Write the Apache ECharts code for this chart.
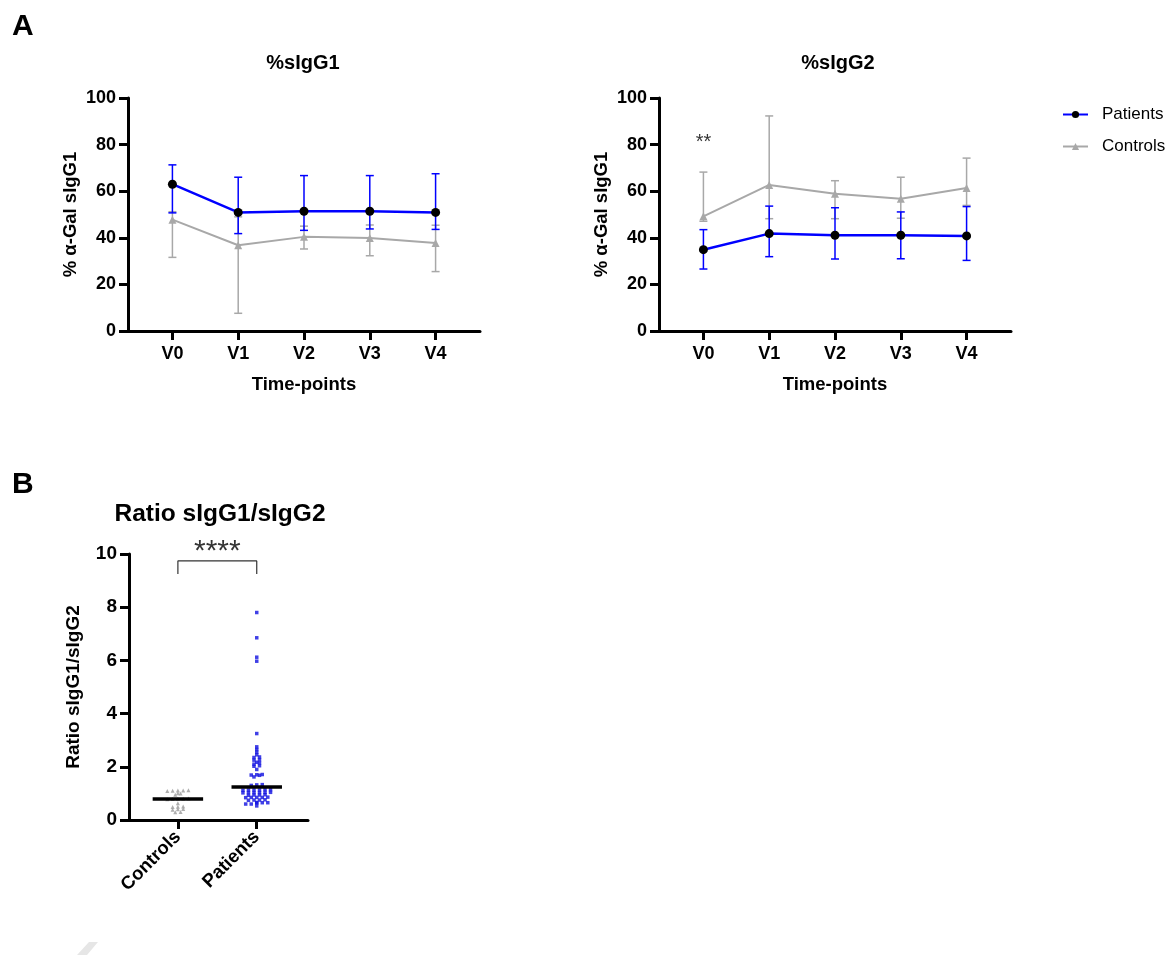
<!DOCTYPE html>
<html>
<head>
<meta charset="utf-8">
<script src="https://cdn.jsdelivr.net/npm/echarts@6/dist/echarts.min.js"></script>
<style>
html,body{margin:0;padding:0;background:#fff;}
#chart{width:1176px;height:955px;}
</style>
</head>
<body>
<div id="chart"></div>
<script>
// ---------- DATA ----------
const timepoints = ['V0', 'V1', 'V2', 'V3', 'V4'];
const yTicksA = [0, 20, 40, 60, 80, 100];

// %sIgG1 (median with range bars)
const g1PatMed  = [63.0, 50.9, 51.4, 51.4, 50.9];
const g1PatLow  = [50.7, 41.8, 43.2, 43.8, 43.6];
const g1PatHigh = [71.3, 66.0, 66.7, 66.7, 67.5];
const g1CtlMed  = [47.8, 36.8, 40.4, 39.9, 37.8];
const g1CtlLow  = [31.6, 7.6, 35.2, 32.3, 25.5];
const g1CtlHigh = [51.2, 49.0, 45.0, 45.5, 45.4];

// %sIgG2
const g2PatMed  = [34.9, 41.8, 41.1, 41.1, 40.8];
const g2PatLow  = [26.6, 31.9, 30.9, 31.0, 30.3];
const g2PatHigh = [43.5, 53.6, 52.9, 51.1, 53.4];
const g2CtlMed  = [49.2, 62.7, 58.9, 56.8, 61.4];
const g2CtlLow  = [47.1, 48.2, 48.2, 48.4, 53.9];
const g2CtlHigh = [68.2, 92.3, 64.5, 66.0, 74.2];

// Ratio sIgG1/sIgG2
const groupsB = ['Controls', 'Patients'];
const ratioControls = [1.12, 1.11, 1.10, 1.11, 1.09, 1.01, 1.00, 0.95, 0.81, 0.80, 0.79, 0.78, 0.80,
  0.63, 0.50, 0.51, 0.49, 0.41, 0.40, 0.39, 0.30, 0.29];
const ratioPatients = [7.80, 6.85, 6.12, 5.97, 3.25,
  2.75, 2.65, 2.55, 2.45, 2.37, 2.35, 2.27, 2.25, 2.17, 2.15, 2.10, 2.04, 2.02, 1.90,
  1.71, 1.70, 1.69, 1.68, 1.62, 1.33, 1.32, 1.30,
  1.14, 1.13, 1.13, 1.12, 1.13, 1.14,
  1.03, 1.04, 1.03, 1.02, 1.03, 1.04,
  0.94, 0.95, 0.94, 0.93,
  0.85, 0.86, 0.85, 0.84, 0.85,
  0.75, 0.76, 0.75, 0.74,
  0.65, 0.66, 0.65, 0.64,
  0.60, 0.60, 0.53];
const ratioMeans = [0.79, 1.24];
const yTicksB = [0, 2, 4, 6, 8, 10];

// ---------- STYLE ----------
const FONT = 'Liberation Sans, Arial, sans-serif';
const BLUE = '#0000FF';
const GRAY = '#A8A8A8';

function zip3(a, b, c) { return a.map((v, i) => [i, b[i], c[i]]); }
function pts(a) { return a.map((v, i) => [i, v]); }

function errSeries(name, xi, yi, low, high, color) {
  return {
    type: 'custom', name: name, xAxisIndex: xi, yAxisIndex: yi, z: 2,
    encode: {x: 0, y: [1, 2]},
    data: zip3(low, low, high),
    renderItem: function (params, api) {
      const x = api.value(0);
      const p1 = api.coord([x, api.value(1)]);
      const p2 = api.coord([x, api.value(2)]);
      const w = 4;
      const st = {stroke: color, lineWidth: 1.5};
      return {type: 'group', children: [
        {type: 'line', shape: {x1: p1[0], y1: p1[1], x2: p2[0], y2: p2[1]}, style: st},
        {type: 'line', shape: {x1: p1[0] - w, y1: p1[1], x2: p1[0] + w, y2: p1[1]}, style: st},
        {type: 'line', shape: {x1: p2[0] - w, y1: p2[1], x2: p2[0] + w, y2: p2[1]}, style: st}
      ]};
    }
  };
}

function patLine(xi, yi, data) {
  return {type: 'line', name: 'Patients', xAxisIndex: xi, yAxisIndex: yi, z: 4,
    data: pts(data), symbol: 'circle', symbolSize: 9,
    itemStyle: {color: '#000'}, lineStyle: {color: BLUE, width: 2.5}};
}
function ctlLine(xi, yi, data) {
  return {type: 'line', name: 'Controls', xAxisIndex: xi, yAxisIndex: yi, z: 3,
    data: pts(data), symbol: 'triangle', symbolSize: 8,
    itemStyle: {color: GRAY}, lineStyle: {color: GRAY, width: 2}};
}

function swarm(values, center, step) {
  const sorted = values.slice().sort((a, b) => a - b);
  const out = [];
  let group = [];
  const flush = () => {
    const n = group.length;
    group.forEach((v, i) => out.push([center + (i - (n - 1) / 2) * step, v]));
    group = [];
  };
  sorted.forEach(v => {
    if (group.length && v - group[0] > 0.06) flush();
    group.push(v);
  });
  flush();
  return out;
}

const axisLineStyle = {show: true, onZero: false, lineStyle: {color: '#000', width: 3}};
const tickStyle = {show: true, length: 9, lineStyle: {color: '#000', width: 3}};
const labelStyle = {color: '#000', fontFamily: FONT, fontWeight: 'bold', fontSize: 18};
const nameStyle = {color: '#000', fontFamily: FONT, fontWeight: 'bold', fontSize: 18.5};

function xAxisA(gi) {
  return {type: 'value', gridIndex: gi, min: -0.675, max: 4.675,
    axisLine: axisLineStyle,
    axisTick: Object.assign({}, tickStyle, {customValues: [0, 1, 2, 3, 4]}),
    axisLabel: Object.assign({}, labelStyle, {customValues: [0, 1, 2, 3, 4], margin: 14,
      formatter: v => timepoints[Math.round(v)] || ''}),
    splitLine: {show: false},
    name: 'Time-points', nameLocation: 'middle', nameGap: 44, nameTextStyle: nameStyle};
}
function yAxisA(gi) {
  return {type: 'value', gridIndex: gi, min: yTicksA[0], max: yTicksA[yTicksA.length - 1], interval: 20,
    axisLine: axisLineStyle, axisTick: tickStyle,
    axisLabel: Object.assign({}, labelStyle, {margin: 12}),
    splitLine: {show: false},
    name: '% α-Gal sIgG1', nameLocation: 'middle', nameGap: 48, nameTextStyle: nameStyle};
}

const chart = echarts.init(document.getElementById('chart'), null, {renderer: 'canvas'});

const option = {
  backgroundColor: '#fff',
  animation: false,
  title: [
    {text: '%sIgG1', left: 298, top: 48, textAlign: 'center',
      textStyle: {fontFamily: FONT, fontWeight: 'bold', fontSize: 20, color: '#000'}},
    {text: '%sIgG2', left: 833, top: 48, textAlign: 'center',
      textStyle: {fontFamily: FONT, fontWeight: 'bold', fontSize: 20, color: '#000'}},
    {text: 'Ratio sIgG1/sIgG2', left: 215, top: 497, textAlign: 'center',
      textStyle: {fontFamily: FONT, fontWeight: 'bold', fontSize: 24.5, color: '#000'}}
  ],
  graphic: [
    {type: 'text', left: 12, top: 12, style: {text: 'A', font: 'bold 30px ' + FONT, fill: '#000'}},
    {type: 'text', left: 12, top: 470, style: {text: 'B', font: 'bold 30px ' + FONT, fill: '#000'}},
    {type: 'polygon', shape: {points: [[77, 955], [89, 942], [98, 942], [87, 955]]},
      style: {fill: '#e6e6e6'}}
  ],
  legend: {
    orient: 'vertical', left: 1062, top: 106, itemWidth: 25, itemHeight: 9, itemGap: 15, padding: 0,
    data: ['Patients', 'Controls'],
    textStyle: {fontFamily: FONT, fontSize: 17, color: '#000', padding: [0, 0, 0, 9]}
  },
  grid: [
    {left: 128, top: 98, width: 352, height: 233},
    {left: 659, top: 98, width: 352, height: 233},
    {left: 129, top: 554, width: 179, height: 266}
  ],
  xAxis: [
    xAxisA(0), xAxisA(1),
    {type: 'value', gridIndex: 2, min: -0.62, max: 1.65,
      axisLine: axisLineStyle,
      axisTick: Object.assign({}, tickStyle, {customValues: [0, 1]}),
      axisLabel: Object.assign({}, labelStyle, {customValues: [0, 1], rotate: 45, margin: 14, fontSize: 18.5,
        formatter: v => groupsB[Math.round(v)] || ''}),
      splitLine: {show: false}}
  ],
  yAxis: [
    yAxisA(0), yAxisA(1),
    {type: 'value', gridIndex: 2, min: yTicksB[0], max: yTicksB[yTicksB.length - 1], interval: 2,
      axisLine: axisLineStyle, axisTick: tickStyle,
      axisLabel: Object.assign({}, labelStyle, {margin: 12, fontSize: 19}),
      splitLine: {show: false},
      name: 'Ratio sIgG1/sIgG2', nameLocation: 'middle', nameGap: 46,
      nameTextStyle: Object.assign({}, nameStyle, {fontSize: 19})}
  ],
  series: [
    errSeries('ctlErr1', 0, 0, g1CtlLow, g1CtlHigh, GRAY),
    errSeries('patErr1', 0, 0, g1PatLow, g1PatHigh, BLUE),
    ctlLine(0, 0, g1CtlMed),
    patLine(0, 0, g1PatMed),
    errSeries('ctlErr2', 1, 1, g2CtlLow, g2CtlHigh, GRAY),
    errSeries('patErr2', 1, 1, g2PatLow, g2PatHigh, BLUE),
    ctlLine(1, 1, g2CtlMed),
    patLine(1, 1, g2PatMed),
    {type: 'scatter', name: 'sig2', xAxisIndex: 1, yAxisIndex: 1, symbolSize: 0, clip: false,
      data: [[0, 81]], silent: true,
      label: {show: true, position: 'inside', formatter: '**', fontFamily: FONT, fontSize: 20, color: '#000'}},
    // panel B
    {type: 'scatter', name: 'ratioCtl', xAxisIndex: 2, yAxisIndex: 2, symbol: 'triangle', symbolSize: 4,
      itemStyle: {color: '#9a9a9a'}, data: swarm(ratioControls, 0, 0.067)},
    {type: 'scatter', name: 'ratioPat', xAxisIndex: 2, yAxisIndex: 2, symbol: 'rect', symbolSize: 3.5,
      itemStyle: {color: '#1010E0'}, data: swarm(ratioPatients, 1, 0.07)},
    {type: 'line', name: 'meanCtl', xAxisIndex: 2, yAxisIndex: 2, symbol: 'none', z: 5,
      lineStyle: {color: '#000', width: 3.5}, data: [[-0.32, ratioMeans[0]], [0.32, ratioMeans[0]]]},
    {type: 'line', name: 'meanPat', xAxisIndex: 2, yAxisIndex: 2, symbol: 'none', z: 5,
      lineStyle: {color: '#000', width: 3.5}, data: [[1 - 0.32, ratioMeans[1]], [1 + 0.32, ratioMeans[1]]]},
    {type: 'line', name: 'bracket', xAxisIndex: 2, yAxisIndex: 2, symbol: 'none',
      lineStyle: {color: '#333', width: 1.2}, data: [[0, 9.25], [0, 9.74], [1, 9.74], [1, 9.25]]},
    {type: 'scatter', name: 'sigB', xAxisIndex: 2, yAxisIndex: 2, symbolSize: 0, clip: false, silent: true,
      data: [[0.5, 10.1]],
      label: {show: true, position: 'inside', formatter: '****', fontFamily: FONT, fontSize: 30, color: '#000'}}
  ]
};
chart.setOption(option);
</script>
</body>
</html>
